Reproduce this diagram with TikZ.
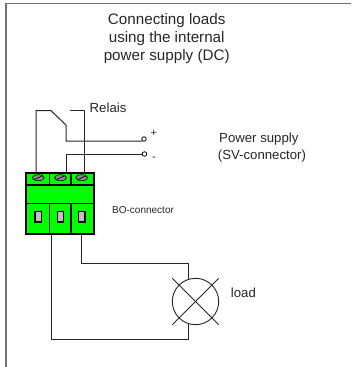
\documentclass[tikz,border=0pt]{standalone}
\usepackage{fontspec}
\setmainfont{Liberation Sans}
\usetikzlibrary{calc,shapes.geometric}
\tikzset{
  wire/.style={line width=1pt,black!85},
  titletext/.style={inner sep=0pt,font=\fontsize{15.2pt}{17.6pt}\selectfont,text=black!85,align=center},
  caption/.style={inner sep=0pt,font=\fontsize{13.2pt}{17pt}\selectfont,text=black!85,align=center},
  smalltext/.style={inner sep=0pt,font=\fontsize{10pt}{11pt}\selectfont,text=black!85},
  signtext/.style={inner sep=0pt,font=\fontsize{11pt}{12pt}\selectfont,text=black!85},
  contact/.style={circle,draw=black,line width=0.8pt,fill=white,inner sep=0pt,minimum size=4.5pt}
}
\begin{document}
\begin{tikzpicture}[x=1pt,y=-1pt]
\useasboundingbox (0,0) rectangle (351,367);
% frame
\draw [line width=1.2pt,black!55] (6,367) -- (6,3.5) -- (351,3.5);
% texts
\node [titletext] (title) at (166.7,38.5) {Connecting loads\\using the internal\\power supply (DC)};
\node [caption,anchor=west] (relais) at (89.5,108) {Relais};
\node [caption,align=left,anchor=west] (supply) at (217.7,147.5) {\hspace{1.3pt}Power supply\\(SV-connector)};
\node [smalltext,anchor=west] (bolabel) at (112,210) {BO-connector};
\node [caption,anchor=west] (loadlabel) at (230.7,292.3) {load};
\node [signtext,anchor=west] (plus) at (150.3,133) {+};
\node [signtext,anchor=west] (minus) at (152,159) {-};
% connector
\fill [green] (26,173) rectangle (94,234);
\draw [line width=1.4pt] (26,173) rectangle (94,234);
\draw [line width=2pt] (26,184.5) -- (94,184.5);
\draw [line width=1.4pt] (26,203.5) -- (94,203.5);
\draw [line width=1.4pt] (49.5,173) -- (49.5,184.5) (71,173) -- (71,184.5);
\draw [line width=1.4pt] (49.5,203.5) -- (49.5,234) (71,203.5) -- (71,234);
\foreach \px/\name in {38.3/a,60.5/b,81.7/c} {
  \node [draw=black,line width=0.6pt,fill=black!45,ellipse,inner sep=0pt,minimum width=12pt,minimum height=6pt] (screw\name) at (\px,177.7) {};
  \draw [line width=0.7pt] (\px-4,179.5) -- (\px+4,176);
  \node [draw=black,line width=1.2pt,fill=black!25,inner sep=0pt,minimum width=6.5pt,minimum height=10.5pt] (pin\name) at (\px,216.7) {};
}
% contacts
\node [contact] (cplus) at (144,139) {};
\node [contact] (cminus) at (144.5,154) {};
% lamp
\node [circle,draw=black!85,line width=0.9pt,fill=white,inner sep=0pt,minimum size=46.4pt] (lamp) at (195.5,301.5) {};
\draw [wire] (172.3,278.3) -- (218.7,324.7);
\draw [wire] (218.7,278.3) -- (172.3,324.7);
% wires
\coordinate (relaisa) at (51,110.7);
\coordinate (relaisb) at (66,125);
\coordinate (relaisc) at (69.7,110.7);
\coordinate (cplusin) at (142,141);
\coordinate (lampin) at (188,279.8);
\coordinate (lampout) at (188,323.2);
\coordinate (busa) at (51,234);
\coordinate (busb) at (81.7,234);
\draw [wire] (36,174) |- (relaisa) -- (relaisb) |- (cplusin) -- (cplus);
\draw [wire] (66.7,174) |- (cminus);
\draw [wire] (84.3,174) |- (relaisc);
\draw [wire] (busa) |- (188,339.3) -- (lampout);
\draw [wire] (busb) |- (188,263.3) -- (lampin);
\end{tikzpicture}
\end{document}
